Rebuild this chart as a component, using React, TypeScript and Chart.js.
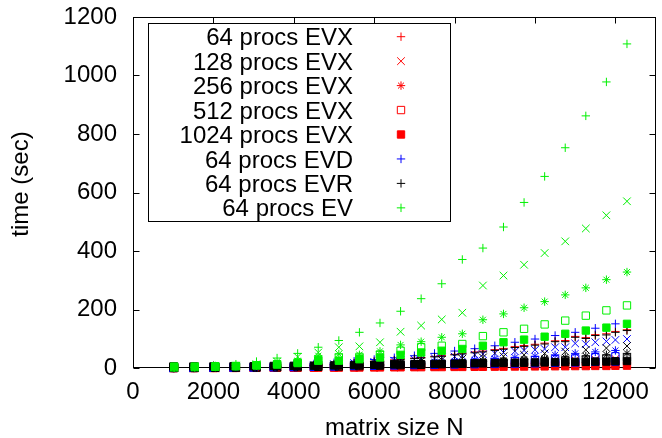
import React, { useEffect, useRef } from 'react';
import { Chart, registerables } from 'chart.js';

Chart.register(...registerables);

const FONT = "'Liberation Sans', Arial, Helvetica, sans-serif";

// ---- x positions (matrix size N) ----
const N500 = [1000, 1500, 2000, 2500, 3000, 3500, 4000, 4500, 5000, 5500, 6000, 6500, 7000, 7500, 8000, 8500, 9000, 9500, 10000, 10500, 11000, 11500, 12000];
const N512 = [1024, 1536, 2048, 2560, 3072, 3584, 4096, 4608, 5120, 5632, 6144, 6656, 7168, 7680, 8192, 8704, 9216, 9728, 10240, 10752, 11264, 11776, 12288];
const NALL = [1000, 1024, 1500, 1536, 2000, 2048, 2500, 2560, 3000, 3072, 3500, 3584, 4000, 4096, 4500, 4608, 5000, 5120, 5500, 5632, 6000, 6144, 6500, 6656, 7000, 7168, 7500, 7680, 8000, 8192, 8500, 8704, 9000, 9216, 9500, 9728, 10000, 10240, 10500, 10752, 11000, 11264, 11500, 11776, 12000, 12288];

// ---- EVX (red) ----
const EVX64 = [0.3, 0.3, 0.6, 0.7, 1.2, 1.3, 2, 2.2, 3.3, 3.5, 4.8, 5.2, 7, 7.5, 9.5, 10, 13, 14, 17.5, 18.5, 23, 24, 28, 30, 34, 36, 40, 43, 47, 50, 55, 58, 63, 67, 73, 77, 81, 85, 93, 94, 108, 104, 114, 117, 125, 131];
const EVX128 = [0.2, 0.3, 0.6, 1, 1.5, 2.2, 3, 4, 5, 6.5, 8, 9.5, 11, 13, 15, 17, 19, 21, 23, 25, 27, 29, 31];
const EVX256 = [0.1, 0.2, 0.4, 0.7, 1, 1.5, 2, 2.7, 3.5, 4.3, 5.2, 6.2, 7.3, 8.5, 9.8, 11, 12.5, 14, 15.5, 17, 18.5, 20, 22];
const EVX512 = [0.1, 0.2, 0.3, 0.5, 0.8, 1.1, 1.5, 2, 2.5, 3.1, 3.7, 4.4, 5.2, 6, 6.9, 7.8, 8.8, 9.8, 10.8, 11.8, 12.8, 13.8, 15];
const EVX1024 = [0, 0, 0.1, 0.1, 0.2, 0.2, 0.3, 0.3, 0.5, 0.5, 0.7, 0.7, 0.9, 0.9, 1.1, 1.1, 1.4, 1.4, 1.7, 1.7, 2, 2, 2.4, 2.4, 2.8, 2.8, 3.2, 3.2, 3.6, 3.6, 4, 4, 4.5, 4.5, 5, 5, 5.5, 5.5, 6, 6, 6.5, 6.5, 7, 7, 7.5, 8];

// ---- EVD (blue) ----
const EVD64 = [0.5, 1, 2, 3, 5, 7, 10, 14, 18, 23, 29, 35, 42, 50, 58, 66, 76, 88, 99, 111, 122, 136, 151];
const EVD128 = [0.3, 0.3, 0.6, 0.6, 1.1, 1.2, 2, 2.2, 3.3, 3.5, 5, 5, 7, 7.5, 9.5, 10, 13, 14, 17, 18, 21, 22, 25, 26, 29, 31, 34, 36, 39, 41, 45, 47, 50, 53, 57, 60, 62, 65, 71, 71, 84, 82, 88, 91, 96, 99];
const EVD256 = [0.2, 0.4, 0.8, 1.4, 2.2, 3.3, 4.5, 6, 8, 10, 12.5, 15, 18, 21, 24, 28, 32, 36, 40, 45, 50, 55, 60];
const EVD512 = [0.2, 0.3, 0.6, 1, 1.5, 2.2, 3, 4, 5.5, 7, 8.5, 10, 12, 14, 16, 18.5, 21, 24, 27, 30, 33, 37, 40];
const EVD1024 = [2, 2, 2.5, 3, 3.5, 4, 4.5, 5, 6, 7, 8, 9, 10, 11, 12, 13, 14, 15, 16, 18, 19, 21, 22];

// ---- EVR (black) ----
const EVR64 = [0.2, 0.2, 0.5, 0.5, 1, 1, 1.7, 1.8, 2.8, 3, 4, 4.5, 6, 6.5, 8.5, 9, 12, 13, 16, 17, 21, 22, 26, 28, 32, 34, 38, 40, 45, 48, 52, 55, 60, 64, 70, 74, 78, 82, 90, 90, 105, 101, 111, 113, 122, 128];
const EVR128 = [0.2, 0.5, 1.1, 2, 3, 4.5, 6.5, 8.5, 11, 14, 17, 20, 24, 28, 32, 36, 40, 45, 50, 56, 62, 68, 75];
const EVR256 = [0.1, 0.3, 0.7, 1.3, 2, 3, 4.2, 5.5, 7.5, 9, 11, 13.5, 16, 18.5, 21, 24, 27, 30, 33, 37, 41, 45, 50];
const EVR512 = [0.1, 0.2, 0.5, 1, 1.5, 2.2, 3, 4, 5, 6.5, 8, 9.5, 11, 13, 15, 17, 19, 21, 23, 26, 29, 32, 35];
const EVR1024 = [5, 5, 5, 5, 5.5, 5.5, 6, 6, 6, 6.5, 7, 7, 7.5, 7.5, 8, 8, 9, 9, 10, 10, 11, 11, 12, 12, 13, 13, 14, 14, 15, 15, 16, 16, 17, 17, 18, 18, 19, 19, 20, 20, 21, 21, 22, 22, 23, 24];

// ---- EV (green) ----
const EV64 = [1, 3, 7, 13, 22, 34, 50, 71, 94, 122, 154, 194, 237, 288, 371, 410, 482, 566, 655, 753, 862, 978, 1108];
const EV128 = [1, 2, 4, 8, 13, 22, 38, 53, 71, 74, 88, 124, 145, 166, 189, 282, 316, 353, 393, 433, 477, 522, 570];
const EV256 = [1, 2, 3, 5, 8, 14, 25, 42, 48, 45, 57, 79, 90, 105, 117, 165, 185, 206, 227, 250, 274, 302, 328];
const EV512 = [2, 3, 4, 6, 9, 13, 19, 27, 36, 38, 46, 59, 71, 76, 82, 109, 122, 134, 149, 162, 179, 197, 214];
const EV1024 = [5, 5, 6, 7, 9, 12, 17, 25, 25, 30, 36, 45, 53, 59, 65, 76, 88, 97, 107, 117, 128, 138, 151];

const X_TICKS = [0, 2000, 4000, 6000, 8000, 10000, 12000];
const Y_TICKS = [0, 200, 400, 600, 800, 1000, 1200];
const X_TITLE = 'matrix size N';
const Y_TITLE = 'time (sec)';

const RED = '#ff0000';
const BLUE = '#0000ff';
const BLACK = '#000000';
const GREEN = '#00f000';

type Marker = 'cross' | 'crossRot' | 'star' | 'openRect' | 'rect';
const SIZE: Record<Marker, number> = { cross: 4.2, crossRot: 5.4, star: 4.2, openRect: 5.2, rect: 5.2 };

interface Ser { label: string; xs: number[]; ys: number[]; color: string; marker: Marker; legend: boolean }

// draw order: first = bottom
const SERIES: Ser[] = [
  { label: '64 procs EVX', xs: NALL, ys: EVX64, color: RED, marker: 'cross', legend: true },
  { label: '128 procs EVX', xs: N500, ys: EVX128, color: RED, marker: 'crossRot', legend: true },
  { label: '256 procs EVX', xs: N500, ys: EVX256, color: RED, marker: 'star', legend: true },
  { label: '512 procs EVX', xs: N500, ys: EVX512, color: RED, marker: 'openRect', legend: true },
  { label: '1024 procs EVX', xs: NALL, ys: EVX1024, color: RED, marker: 'rect', legend: true },
  { label: '64 procs EVD', xs: N500, ys: EVD64, color: BLUE, marker: 'cross', legend: true },
  { label: '128 procs EVD', xs: NALL, ys: EVD128, color: BLUE, marker: 'crossRot', legend: false },
  { label: '256 procs EVD', xs: N500, ys: EVD256, color: BLUE, marker: 'star', legend: false },
  { label: '512 procs EVD', xs: N500, ys: EVD512, color: BLUE, marker: 'openRect', legend: false },
  { label: '1024 procs EVD', xs: N500, ys: EVD1024, color: BLUE, marker: 'rect', legend: false },
  { label: '64 procs EVR', xs: NALL, ys: EVR64, color: BLACK, marker: 'cross', legend: true },
  { label: '128 procs EVR', xs: N512, ys: EVR128, color: BLACK, marker: 'crossRot', legend: false },
  { label: '256 procs EVR', xs: N512, ys: EVR256, color: BLACK, marker: 'star', legend: false },
  { label: '512 procs EVR', xs: N512, ys: EVR512, color: BLACK, marker: 'openRect', legend: false },
  { label: '1024 procs EVR', xs: NALL, ys: EVR1024, color: BLACK, marker: 'rect', legend: false },
  { label: '64 procs EV', xs: N512, ys: EV64, color: GREEN, marker: 'cross', legend: true },
  { label: '128 procs EV', xs: N512, ys: EV128, color: GREEN, marker: 'crossRot', legend: false },
  { label: '256 procs EV', xs: N512, ys: EV256, color: GREEN, marker: 'star', legend: false },
  { label: '512 procs EV', xs: N512, ys: EV512, color: GREEN, marker: 'openRect', legend: false },
  { label: '1024 procs EV', xs: N512, ys: EV1024, color: GREEN, marker: 'rect', legend: false },
];

function drawMarker(ctx: CanvasRenderingContext2D, m: Marker, x: number, y: number, color: string) {
  const r = SIZE[m];
  ctx.save();
  ctx.strokeStyle = color;
  ctx.fillStyle = color;
  ctx.lineWidth = 1;
  ctx.beginPath();
  if (m === 'cross' || m === 'star') {
    ctx.moveTo(x - r, y); ctx.lineTo(x + r, y);
    ctx.moveTo(x, y - r); ctx.lineTo(x, y + r);
  }
  if (m === 'crossRot' || m === 'star') {
    const d = r * Math.SQRT1_2;
    ctx.moveTo(x - d, y - d); ctx.lineTo(x + d, y + d);
    ctx.moveTo(x - d, y + d); ctx.lineTo(x + d, y - d);
  }
  if (m === 'openRect' || m === 'rect') {
    const s = r * Math.SQRT1_2;
    ctx.rect(x - s, y - s, 2 * s, 2 * s);
    if (m === 'rect') ctx.fill();
  }
  ctx.stroke();
  ctx.restore();
}

const framePlugin = {
  id: 'gnuFrame',
  beforeDatasetsDraw(chart: any) {
    const { ctx, chartArea: a, scales } = chart;
    const xs = scales.x, ys = scales.y;
    const L = Math.round(a.left) + 0.5, R = Math.round(a.right) - 0.5;
    const T = Math.round(a.top) + 0.5, B = Math.round(a.bottom) - 0.5;
    ctx.save();
    ctx.strokeStyle = '#000';
    ctx.lineWidth = 1;
    ctx.strokeRect(L, T, R - L, B - T);
    ctx.beginPath();
    for (const v of X_TICKS) {
      const px = Math.round(xs.getPixelForValue(v)) + 0.5;
      ctx.moveTo(px, B); ctx.lineTo(px, B - 6);
      ctx.moveTo(px, T); ctx.lineTo(px, T + 6);
    }
    for (const v of Y_TICKS) {
      const py = Math.round(ys.getPixelForValue(v)) + 0.5;
      ctx.moveTo(L, py); ctx.lineTo(L + 6, py);
      ctx.moveTo(R, py); ctx.lineTo(R - 6, py);
    }
    ctx.stroke();

    // axis titles
    ctx.fillStyle = '#000';
    ctx.font = `24px ${FONT}`;
    ctx.textAlign = 'center';
    ctx.textBaseline = 'alphabetic';
    ctx.fillText(X_TITLE, (a.left + a.right) / 2, 435);
    ctx.translate(28, 184);
    ctx.rotate(-Math.PI / 2);
    ctx.fillText(Y_TITLE, 0, 0);
    ctx.restore();
  },
  afterDatasetsDraw(chart: any) {
    const { ctx } = chart;
    ctx.save();
    ctx.strokeStyle = '#000';
    ctx.lineWidth = 1;
    ctx.strokeRect(148.5, 23.5, 302, 198);
    ctx.font = `24px ${FONT}`;
    ctx.fillStyle = '#000';
    ctx.textAlign = 'right';
    ctx.textBaseline = 'alphabetic';
    const items = SERIES.filter((s) => s.legend);
    items.forEach((s, i) => {
      const cy = 36.7 + i * 24.45;
      ctx.fillText(s.label, 353, cy + 8.6);
      drawMarker(ctx, s.marker, 401, cy, s.color);
    });
    ctx.restore();
  },
};

export default function App() {
  const ref = useRef<HTMLCanvasElement | null>(null);
  useEffect(() => {
    if (!ref.current) return;
    Chart.defaults.font.family = FONT;
    const n = SERIES.length;
    const datasets = SERIES.map((s, i) => ({
      label: s.label,
      data: s.xs.map((x, j) => ({ x, y: s.ys[j] })),
      showLine: false,
      pointStyle: s.marker === 'openRect' ? 'rect' : s.marker,
      pointRadius: SIZE[s.marker],
      pointHoverRadius: SIZE[s.marker],
      pointBorderWidth: 1,
      borderColor: s.color,
      backgroundColor: s.marker === 'openRect' ? 'rgba(0,0,0,0)' : s.color,
      order: n - i,
      clip: false as any,
    }));
    const chart = new Chart(ref.current, {
      type: 'scatter',
      data: { datasets },
      options: {
        responsive: false,
        animation: false,
        devicePixelRatio: 1,
        layout: { padding: { top: 17, right: 1, left: 0, bottom: 0 } },
        plugins: { legend: { display: false }, tooltip: { enabled: false } },
        events: [],
        scales: {
          x: {
            type: 'linear',
            min: 0,
            max: 13000,
            grid: { display: false, drawTicks: false },
            border: { display: false },
            afterBuildTicks: (s: any) => { s.ticks = X_TICKS.map((v) => ({ value: v })); },
            afterFit: (s: any) => { s.height = 70; s.paddingLeft = 0; s.paddingRight = 0; },
            ticks: {
              autoSkip: false,
              maxRotation: 0,
              padding: 10,
              color: '#000',
              font: { size: 24, family: FONT },
              callback: (v: any) => String(v),
            },
          },
          y: {
            type: 'linear',
            min: 0,
            max: 1200,
            grid: { display: false, drawTicks: false },
            border: { display: false },
            afterBuildTicks: (s: any) => { s.ticks = Y_TICKS.map((v) => ({ value: v })); },
            afterFit: (s: any) => { s.width = 133; s.paddingTop = 0; s.paddingBottom = 0; },
            ticks: {
              padding: 16,
              color: '#000',
              font: { size: 24, family: FONT },
              callback: (v: any) => String(v),
            },
          },
        },
      },
      plugins: [framePlugin],
    } as any);
    return () => chart.destroy();
  }, []);
  return (
    <div style={{ position: 'absolute', left: 0, top: 0, width: 662, height: 438, background: '#fff' }}>
      <canvas ref={ref} width={662} height={438} style={{ width: 662, height: 438, display: 'block' }} />
    </div>
  );
}
